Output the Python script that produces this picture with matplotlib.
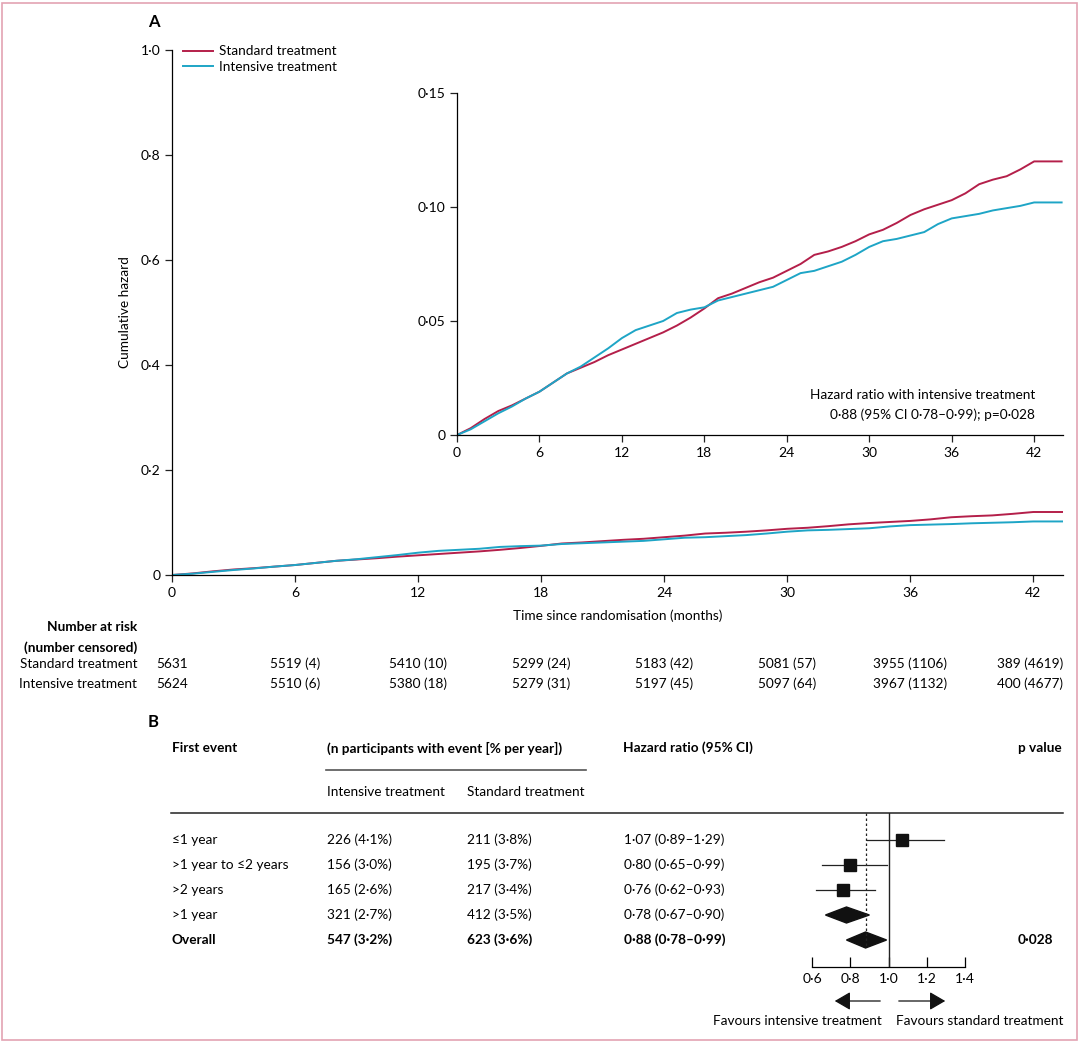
import matplotlib
matplotlib.use('Agg')
import matplotlib.pyplot as plt
import matplotlib.transforms as mtransforms
from matplotlib.patches import Rectangle, Polygon

plt.rcParams['font.family'] = ['Lato', 'DejaVu Sans']
plt.rcParams['font.size'] = 9.8

RED = '#b41f4a'
BLUE = '#1ea5c6'

# --- panel A data ---
meses = list(range(0, 43)) + [44]
estandar = [0, 0.003, 0.007, 0.0105, 0.013, 0.016, 0.019, 0.023, 0.027, 0.0295,
            0.032, 0.035, 0.0375, 0.040, 0.0425, 0.045, 0.048, 0.0515, 0.0555, 0.060,
            0.062, 0.0645, 0.067, 0.069, 0.072, 0.075, 0.079, 0.0805, 0.0825, 0.085,
            0.088, 0.090, 0.093, 0.0965, 0.099, 0.101, 0.103, 0.106, 0.110, 0.112,
            0.1135, 0.1165, 0.120, 0.120]
intensivo = [0, 0.0025, 0.006, 0.0095, 0.0125, 0.016, 0.019, 0.023, 0.027, 0.030,
             0.034, 0.038, 0.0425, 0.046, 0.048, 0.050, 0.0535, 0.055, 0.056, 0.059,
             0.0605, 0.062, 0.0635, 0.065, 0.068, 0.071, 0.072, 0.074, 0.076, 0.079,
             0.0825, 0.085, 0.086, 0.0875, 0.089, 0.0925, 0.095, 0.096, 0.097, 0.0985,
             0.0995, 0.1005, 0.102, 0.102]

riesgo_t = [0, 6, 12, 18, 24, 30, 36, 42]
riesgo_std = ['5631', '5519 (4)', '5410 (10)', '5299 (24)', '5183 (42)', '5081 (57)',
              '3955 (1106)', '389 (4619)']
riesgo_int = ['5624', '5510 (6)', '5380 (18)', '5279 (31)', '5197 (45)', '5097 (64)',
              '3967 (1132)', '400 (4677)']

# --- panel B data ---
eventos = ['≤1 year', '>1 year to ≤2 years', '>2 years', '>1 year', 'Overall']
n_int = ['226 (4·1%)', '156 (3·0%)', '165 (2·6%)', '321 (2·7%)', '547 (3·2%)']
n_std = ['211 (3·8%)', '195 (3·7%)', '217 (3·4%)', '412 (3·5%)', '623 (3·6%)']
hr_txt = ['1·07 (0·89–1·29)', '0·80 (0·65–0·99)', '0·76 (0·62–0·93)',
          '0·78 (0·67–0·90)', '0·88 (0·78–0·99)']
hr = [1.07, 0.80, 0.76, 0.78, 0.88]
hr_lo = [0.89, 0.65, 0.62, 0.67, 0.78]
hr_hi = [1.29, 0.99, 0.93, 0.90, 0.99]
forma = ['sq', 'sq', 'sq', 'dia', 'dia']

W, H = 1080, 1043
fig = plt.figure(figsize=(W / 100, H / 100), dpi=100)


def fx(px):
    return px / W


def fy(py):
    return 1 - py / H


def ejes(ax):
    ax.spines['top'].set_visible(False)
    ax.spines['right'].set_visible(False)
    ax.tick_params(direction='out', length=5, width=0.9, color='#222222', labelsize=10)
    for s in ('left', 'bottom'):
        ax.spines[s].set_linewidth(0.9)


def num(v):
    if v == 0:
        return '0'
    return ('%.1f' % v).replace('.', '·')


# main axes
ax = fig.add_axes([fx(172), fy(575), fx(1063) - fx(172), fy(50) - fy(575)])
ax.plot(meses, estandar, color=RED, lw=1.4, label='Standard treatment')
ax.plot(meses, intensivo, color=BLUE, lw=1.4, label='Intensive treatment')
ax.set_xlim(0, 43.45)
ax.set_ylim(0, 1.0)
ejes(ax)
ax.set_xticks(riesgo_t)
ax.set_yticks([0, 0.2, 0.4, 0.6, 0.8, 1.0])
ax.set_yticklabels([num(v) for v in [0, 0.2, 0.4, 0.6, 0.8, 1.0]])
ax.set_ylabel('Cumulative hazard', labelpad=7)
ax.set_xlabel('Time since randomisation (months)', labelpad=8)
ax.legend(loc='upper left', bbox_to_anchor=(fx(178), fy(40)), bbox_transform=fig.transFigure,
          frameon=False, handlelength=2.2, handletextpad=0.4, labelspacing=0.25,
          borderaxespad=0)

# inset
ins = fig.add_axes([fx(457), fy(435), fx(1063) - fx(457), fy(93) - fy(435)])
ins.plot(meses, estandar, color=RED, lw=1.4)
ins.plot(meses, intensivo, color=BLUE, lw=1.4)
ins.set_xlim(0, 44.1)
ins.set_ylim(0, 0.15)
ejes(ins)
ins.set_xticks(riesgo_t)
ins.set_yticks([0, 0.05, 0.10, 0.15])
ins.set_yticklabels(['0', '0·05', '0·10', '0·15'])
ins.text(0.954, 0.117, 'Hazard ratio with intensive treatment',
         transform=ins.transAxes, ha='right', va='center')
ins.text(0.954, 0.058, '0·88 (95% CI 0·78–0·99); p=0·028',
         transform=ins.transAxes, ha='right', va='center')

fig.text(fx(148), fy(22), 'A', fontsize=12, fontweight='bold', va='center')
fig.text(fx(148), fy(722), 'B', fontsize=12, fontweight='bold', va='center')

# number at risk
tr = mtransforms.blended_transform_factory(ax.transData, fig.transFigure)
fig.text(fx(137), fy(627), 'Number at risk', ha='right', va='center', fontweight='bold')
fig.text(fx(137), fy(648), '(number censored)', ha='right', va='center', fontweight='bold')
fig.text(fx(137), fy(664), 'Standard treatment', ha='right', va='center')
fig.text(fx(137), fy(684), 'Intensive treatment', ha='right', va='center')
for i, t in enumerate(riesgo_t):
    if i == len(riesgo_t) - 1:
        xpos, ha = 43.45, 'right'
    else:
        xpos, ha = t, 'center'
    ax.text(xpos, fy(664), riesgo_std[i], transform=tr, ha=ha, va='center')
    ax.text(xpos, fy(684), riesgo_int[i], transform=tr, ha=ha, va='center')

# panel B table
fig.text(fx(172), fy(748), 'First event', va='center', fontweight='bold')
fig.text(fx(327), fy(748), '(n participants with event [% per year])', va='center', fontweight='bold')
fig.text(fx(623), fy(748), 'Hazard ratio (95% CI)', va='center', fontweight='bold')
fig.text(fx(1062), fy(748), 'p value', va='center', ha='right', fontweight='bold')
fig.add_artist(plt.Line2D([fx(326), fx(586)], [fy(770), fy(770)], color='#555555', lw=1.2))
fig.text(fx(327), fy(792), 'Intensive treatment', va='center')
fig.text(fx(467), fy(792), 'Standard treatment', va='center')
fig.add_artist(plt.Line2D([fx(171), fx(1063)], [fy(813), fy(813)], color='#222222', lw=1.1))

fila_y = [840, 865, 890, 915, 940]
for i in range(len(eventos)):
    peso = 'bold' if eventos[i] == 'Overall' else 'normal'
    fig.text(fx(172), fy(fila_y[i]), eventos[i], va='center', fontweight=peso)
    fig.text(fx(327), fy(fila_y[i]), n_int[i], va='center', fontweight=peso)
    fig.text(fx(467), fy(fila_y[i]), n_std[i], va='center', fontweight=peso)
    fig.text(fx(624), fy(fila_y[i]), hr_txt[i], va='center', fontweight=peso)
fig.text(fx(1053), fy(940), '0·028', va='center', ha='right', fontweight='bold')

# forest plot axes: one row = 25 px
fa = fig.add_axes([fx(793), fy(967), fx(984) - fx(793), fy(813) - fy(967)])
fa.set_xlim(0.5, 1.5)
fa.set_ylim(5.08, -1.08)
fa.patch.set_alpha(0)
for s in ('top', 'right', 'left'):
    fa.spines[s].set_visible(False)
fa.spines['bottom'].set_bounds(0.6, 1.4)
fa.spines['bottom'].set_linewidth(0.9)
fa.set_yticks([])
fa.set_xticks([0.6, 0.8, 1.0, 1.2, 1.4])
fa.set_xticklabels(['0·6', '0·8', '1·0', '1·2', '1·4'])
fa.tick_params(axis='x', direction='in', length=7, width=0.9, labelsize=10, pad=4)
fa.axvline(1.0, color='#222222', lw=1.0)
fa.plot([0.88, 0.88], [-1.08, 4.22], color='#222222', lw=0.9, ls=(0, (2, 2)))
for i in range(len(hr)):
    if forma[i] == 'sq':
        fa.plot([hr_lo[i], hr_hi[i]], [i, i], color='#222222', lw=0.9)
        fa.plot(hr[i], i, marker='s', ms=8.5, color='#111111', mec='#111111')
    else:
        d = Polygon([[hr_lo[i], i], [hr[i], i - 0.32], [hr_hi[i], i], [hr[i], i + 0.32]],
                    closed=True, color='#111111')
        fa.add_patch(d)

# arrows and favour labels
fig.add_artist(matplotlib.patches.FancyArrowPatch((fx(883), fy(1001)), (fx(832), fy(1001)),
               transform=fig.transFigure, arrowstyle='-|>,head_length=6,head_width=3.5',
               color='#111111', lw=0.9, mutation_scale=1.6))
fig.add_artist(matplotlib.patches.FancyArrowPatch((fx(896), fy(1001)), (fx(948), fy(1001)),
               transform=fig.transFigure, arrowstyle='-|>,head_length=6,head_width=3.5',
               color='#111111', lw=0.9, mutation_scale=1.6))
fig.text(fx(882), fy(1021), 'Favours intensive treatment', ha='right', va='center')
fig.text(fx(896), fy(1021), 'Favours standard treatment', ha='left', va='center')

# pink frame
fig.add_artist(Rectangle((fx(2), fy(1040)), fx(1077) - fx(2), fy(3) - fy(1040),
                         transform=fig.transFigure, fill=False, ec='#e3a3b3', lw=1.2))

fig.savefig('out.png', dpi=100)
